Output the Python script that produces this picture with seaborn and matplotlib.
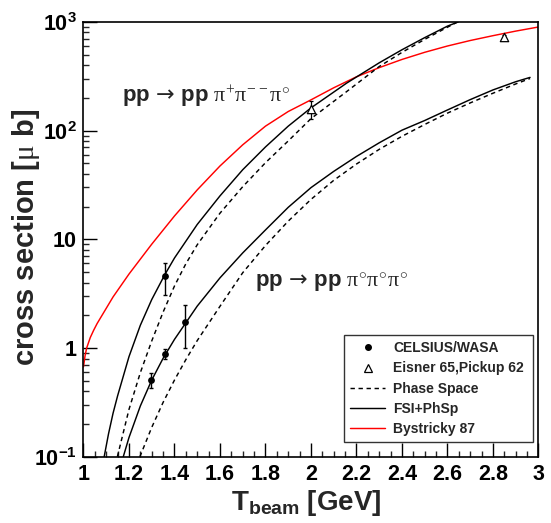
import matplotlib
matplotlib.use("Agg")
import matplotlib.pyplot as plt
import seaborn as sns
from matplotlib.lines import Line2D
from matplotlib.ticker import FixedLocator, LogLocator, NullFormatter, FixedFormatter

# ---------------- data ----------------
# Bystricky 87 parameterisation, pp -> pp pi+ pi- pi0
t_bystricky = [1.0, 1.007, 1.014, 1.03, 1.045, 1.06, 1.13, 1.2, 1.3, 1.4, 1.5, 1.6, 1.7, 1.8, 1.9,
               2.0, 2.1, 2.2, 2.3, 2.4, 2.5, 2.6, 2.7, 2.8, 2.9, 3.0]
xs_bystricky = [0.67, 0.85, 1.0, 1.25, 1.46, 1.68, 2.95, 4.79, 9.02, 16.4, 28.5, 47.3, 74.1, 110, 150,
                192, 248, 313, 380, 452, 526, 601, 675, 748, 824, 899]

# FSI + phase space, pp -> pp pi+ pi- pi0
t_fsi_charged = [1.091, 1.11, 1.13, 1.15, 1.2, 1.25, 1.3, 1.357, 1.4, 1.5, 1.6, 1.7, 1.8, 1.9, 2.0,
                 2.157, 2.3, 2.4, 2.5, 2.6, 2.647]
xs_fsi_charged = [0.1, 0.162, 0.251, 0.363, 0.832, 1.62, 2.79, 4.71, 6.73, 13.7, 25.1, 43.7, 70.8, 110, 162,
                  274, 421, 555, 718, 916, 1000]

# pure phase space, pp -> pp pi+ pi- pi0
t_ps_charged = [1.149, 1.2, 1.25, 1.3, 1.35, 1.4, 1.45, 1.5, 1.6, 1.7, 1.8, 1.9, 2.0, 2.157, 2.3, 2.4,
                2.5, 2.6, 2.64]
xs_ps_charged = [0.1, 0.272, 0.594, 1.16, 2.14, 3.72, 5.96, 8.91, 17.4, 30.5, 50.7, 80.4, 129, 229, 389, 525,
                 692, 895, 991]

# FSI + phase space, pp -> pp pi0 pi0 pi0
t_fsi_neutral = [1.175, 1.2, 1.25, 1.3, 1.35, 1.4, 1.5, 1.6, 1.7, 1.8, 1.9, 2.0, 2.1, 2.2, 2.3, 2.4,
                 2.5, 2.6, 2.7, 2.8, 2.9, 2.963]
xs_fsi_neutral = [0.1, 0.150, 0.293, 0.507, 0.804, 1.20, 2.43, 4.42, 7.50, 12.2, 19.7, 29.9, 42.2, 57.9,
                  77.3, 101, 124, 155, 193, 237, 282, 309]

# pure phase space, pp -> pp pi0 pi0 pi0
t_ps_neutral = [1.248, 1.3, 1.35, 1.4, 1.45, 1.5, 1.6, 1.7, 1.8, 1.9, 2.0, 2.1, 2.2, 2.3, 2.4, 2.5,
                2.6, 2.7, 2.8, 2.9, 2.963]
xs_ps_neutral = [0.1, 0.186, 0.316, 0.507, 0.782, 1.17, 2.42, 4.93, 8.77, 14.7, 23.3, 34.9, 49.3, 67.3,
                 88.7, 114, 145, 180, 221, 269, 302]

# CELSIUS/WASA measurements
t_wasa = [1.295, 1.357, 1.357, 1.447]
xs_wasa = [0.51, 0.88, 4.6, 1.74]
err_wasa = [0.08, 0.09, 1.5, 0.75]

# Eisner 65, Pickup 62
t_old = [2.0, 2.85]
xs_old = [157, 733]
err_old = [30, 25]

x_ticks = [1.0, 1.2, 1.4, 1.6, 1.8, 2.0, 2.2, 2.4, 2.6, 2.8, 3.0]
x_tick_labels = ["1", "1.2", "1.4", "1.6", "1.8", "2", "2.2", "2.4", "2.6", "2.8", "3"]
y_ticks = [0.1, 1, 10, 100, 1000]
y_tick_labels = [r"$\mathbf{10^{-1}}$", "1", "10", r"$\mathbf{10^{2}}$", r"$\mathbf{10^{3}}$"]

# ---------------- style ----------------
sns.set_theme(style="ticks")
plt.rcParams["font.family"] = ["Liberation Sans", "DejaVu Sans"]
plt.rcParams["mathtext.fontset"] = "custom"
plt.rcParams["mathtext.rm"] = "Liberation Serif"
plt.rcParams["mathtext.it"] = "Liberation Serif"
plt.rcParams["mathtext.bf"] = "Liberation Sans:bold"
plt.rcParams["mathtext.sf"] = "DejaVu Sans"

fig = plt.figure(figsize=(5.51, 5.23), dpi=100)
ax = fig.add_axes([0.1515, 0.1268, 0.8258, 0.8312])

dash = (0, (3, 2.5))
lw = 1.05

sns.lineplot(x=t_bystricky, y=xs_bystricky, ax=ax, color="red", linewidth=lw)
sns.lineplot(x=t_fsi_charged, y=xs_fsi_charged, ax=ax, color="black", linewidth=lw)
sns.lineplot(x=t_ps_charged, y=xs_ps_charged, ax=ax, color="black", linewidth=lw, linestyle=dash)
sns.lineplot(x=t_fsi_neutral, y=xs_fsi_neutral, ax=ax, color="black", linewidth=lw)
sns.lineplot(x=t_ps_neutral, y=xs_ps_neutral, ax=ax, color="black", linewidth=lw, linestyle=dash)

ax.errorbar(t_wasa, xs_wasa, yerr=err_wasa, fmt="none", ecolor="black", elinewidth=1.0, capsize=1.5, capthick=1.0)
sns.scatterplot(x=t_wasa, y=xs_wasa, ax=ax, color="black", marker="o", s=24, edgecolor="black", linewidth=0, zorder=5)

ax.errorbar(t_old, xs_old, yerr=err_old, fmt="none", ecolor="black", elinewidth=0.9, capsize=1.5, capthick=0.9)
sns.scatterplot(x=t_old, y=xs_old, ax=ax, marker="^", s=36, facecolor="white", edgecolor="black", linewidth=0.9, zorder=5)

ax.set_yscale("log")
ax.set_xlim(1.0, 3.0)
ax.set_ylim(0.1, 1000)

ax.xaxis.set_major_locator(FixedLocator(x_ticks))
ax.xaxis.set_major_formatter(FixedFormatter(x_tick_labels))
ax.xaxis.set_minor_locator(FixedLocator([1 + 0.05 * i for i in range(41)]))
ax.yaxis.set_major_locator(FixedLocator(y_ticks))
ax.yaxis.set_major_formatter(FixedFormatter(y_tick_labels))
ax.yaxis.set_minor_locator(LogLocator(base=10, subs=range(2, 10)))
ax.yaxis.set_minor_formatter(NullFormatter())

ax.tick_params(axis="both", which="major", direction="in", length=10, width=1.0,
               labelsize=15.5, colors="black", top=False, right=False)
ax.tick_params(axis="both", which="minor", direction="in", length=4.5, width=1.0,
               top=False, right=False)
ax.tick_params(axis="x", which="major", pad=5)
ax.tick_params(axis="y", which="major", pad=5)
for lab in ax.get_xticklabels() + ax.get_yticklabels():
    lab.set_fontweight("bold")

for sp in ax.spines.values():
    sp.set_visible(True)
    sp.set_color("black")
    sp.set_linewidth(1.2)

ax.set_xlabel(r"$\mathbf{T_{beam}\ [GeV]}$", fontsize=20)
ax.xaxis.set_label_coords(0.49, -0.072)
ax.set_ylabel(r"cross section [$\mu$ b]", fontsize=21, fontweight="bold")
ax.yaxis.set_label_coords(-0.092, 0.505)

ax.text(1.17, 204, r"$\mathbf{pp}\,\mathsf{\rightarrow}\,\mathbf{pp}\ \pi^{+}\pi^{--}\pi^{\circ}$",
        fontsize=16, ha="left", va="center")
ax.text(1.752, 4.08, r"$\mathbf{pp}\,\mathsf{\rightarrow}\,\mathbf{pp}\ \pi^{\circ}\pi^{\circ}\pi^{\circ}$",
        fontsize=16, ha="left", va="center")

handles = [
    Line2D([], [], marker="o", color="black", linestyle="none", markersize=4),
    Line2D([], [], marker="^", color="black", markerfacecolor="white", linestyle="none",
           markersize=6, markeredgewidth=0.9),
    Line2D([], [], color="black", linewidth=lw, linestyle=dash),
    Line2D([], [], color="black", linewidth=lw),
    Line2D([], [], color="red", linewidth=lw),
]
labels = ["CELSIUS/WASA", "Eisner 65,Pickup 62", "Phase Space", "FSI+PhSp", "Bystricky 87"]
leg = ax.legend(handles, labels, loc="upper left", bbox_to_anchor=(0.5725, 0.0368, 0.4155, 0.2432),
                mode="expand", frameon=True, fancybox=False, framealpha=1, edgecolor="#333333",
                prop={"weight": "bold", "size": 10}, handlelength=2.5, handletextpad=0.6,
                labelspacing=0.45, borderpad=0.45, borderaxespad=0)
leg.get_frame().set_linewidth(1.0)

fig.savefig("out.png", dpi=100)
